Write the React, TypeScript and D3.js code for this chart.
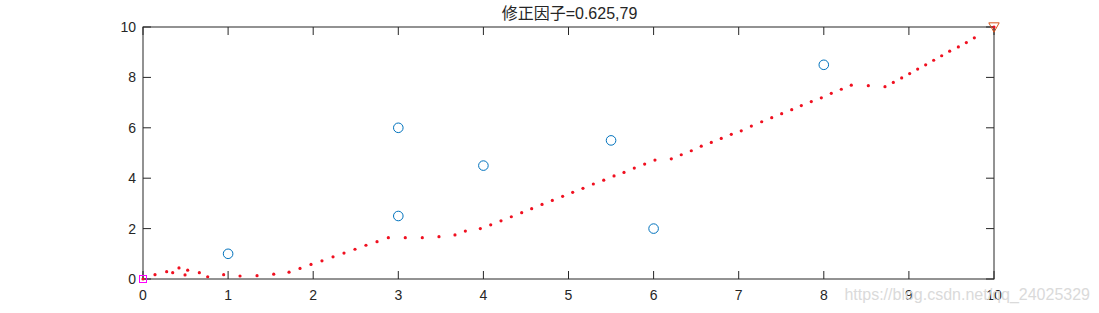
import React from "react";
import * as d3 from "d3";

const titleText = "修正因子=0.625,79";
const xTicks = [0, 1, 2, 3, 4, 5, 6, 7, 8, 9, 10];
const yTicks = [0, 2, 4, 6, 8, 10];

const sampleX = [1, 3, 3, 4, 5.5, 6, 8];
const sampleY = [1, 2.5, 6, 4.5, 5.5, 2, 8.5];

const startPt = [0, 0];
const endPt = [10, 10];

const pathX = [
  0, 0.141, 0.278, 0.349, 0.423, 0.494, 0.525, 0.662, 0.76, 0.948, 1.14, 1.34, 1.536, 1.716, 1.845, 1.974,
  2.103, 2.233, 2.362, 2.491, 2.62, 2.75, 2.883, 3.082, 3.282, 3.478, 3.666, 3.788, 3.964, 4.086, 4.207,
  4.328, 4.45, 4.567, 4.689, 4.81, 4.931, 5.049, 5.17, 5.292, 5.414, 5.535, 5.652, 5.773, 5.895, 6.016,
  6.208, 6.325, 6.443, 6.56, 6.678, 6.795, 6.913, 7.03, 7.149, 7.27, 7.388, 7.505, 7.623, 7.736, 7.853,
  7.971, 8.088, 8.206, 8.323, 8.523, 8.719, 8.817, 8.915, 9.009, 9.103, 9.197, 9.291, 9.385, 9.479, 9.581,
  9.675, 9.769, 10,
];
const pathY = [
  0, 0.17, 0.29, 0.25, 0.44, 0.16, 0.35, 0.25, 0.09, 0.17, 0.12, 0.13, 0.19, 0.27, 0.42, 0.58,
  0.72, 0.88, 1.03, 1.18, 1.34, 1.48, 1.64, 1.64, 1.64, 1.68, 1.75, 1.9, 2.0, 2.15, 2.31,
  2.47, 2.63, 2.79, 2.96, 3.12, 3.28, 3.44, 3.6, 3.77, 3.92, 4.09, 4.23, 4.4, 4.56, 4.72,
  4.77, 4.93, 5.09, 5.27, 5.42, 5.58, 5.74, 5.88, 6.07, 6.24, 6.4, 6.56, 6.72, 6.88, 7.04,
  7.19, 7.37, 7.53, 7.69, 7.67, 7.63, 7.8, 7.98, 8.15, 8.33, 8.5, 8.68, 8.86, 9.04, 9.21,
  9.38, 9.57, 10,
];

const W = 1099;
const H = 313;
const left = 143;
const right = 994;
const top = 27;
const bottom = 279;
const tickLen = 8;
const axisColor = "#262626";
const font = "Arial, 'Liberation Sans', Helvetica, sans-serif";

export default function App() {
  const x = d3.scaleLinear().domain([0, 10]).range([left, right]);
  const y = d3.scaleLinear().domain([0, 10]).range([bottom, top]);

  const tri = (cx: number, cy: number, s: number) =>
    `M${cx - s},${cy - s * 0.8} L${cx + s},${cy - s * 0.8} L${cx},${cy + s * 1.0} Z`;

  return (
    <svg
      width={W}
      height={H}
      style={{ position: "fixed", left: 0, top: 0, background: "#fff" }}
      fontFamily={font}
    >
      <rect x={0} y={0} width={W} height={H} fill="#fff" />
      <text
        x={(left + right) / 2 + 1}
        y={19}
        textAnchor="middle"
        fontSize={16}
        fill="#262626"
        fontFamily="Arial, 'Noto Sans CJK SC', sans-serif"
      >
        {titleText}
      </text>

      <rect x={left} y={top} width={right - left} height={bottom - top} fill="none" stroke={axisColor} strokeWidth={1} />

      {xTicks.map((t) => (
        <g key={"xt" + t}>
          <line x1={x(t)} x2={x(t)} y1={bottom} y2={bottom - tickLen} stroke={axisColor} />
          <line x1={x(t)} x2={x(t)} y1={top} y2={top + tickLen} stroke={axisColor} />
          <text x={x(t)} y={bottom + 21} textAnchor="middle" fontSize={14} fill="#262626">
            {t}
          </text>
        </g>
      ))}
      {yTicks.map((t) => (
        <g key={"yt" + t}>
          <line x1={left} x2={left + tickLen} y1={y(t)} y2={y(t)} stroke={axisColor} />
          <line x1={right} x2={right - tickLen} y1={y(t)} y2={y(t)} stroke={axisColor} />
          <text x={left - 7} y={y(t) + 5} textAnchor="end" fontSize={14} fill="#262626">
            {t}
          </text>
        </g>
      ))}

      {sampleX.map((v, i) => (
        <circle key={"c" + i} cx={x(v)} cy={y(sampleY[i])} r={4.8} fill="none" stroke="#0072BD" strokeWidth={1} />
      ))}

      <rect x={x(startPt[0]) - 3.5} y={y(startPt[1]) - 3.5} width={7} height={7} fill="none" stroke="#FF00FF" strokeWidth={1} />
      <path d={tri(x(endPt[0]), y(endPt[1]), 5.2)} fill="none" stroke="#D95319" strokeWidth={1} />

      {pathX.map((v, i) => (
        <circle key={"d" + i} cx={x(v)} cy={y(pathY[i])} r={1.6} fill="#f01020" />
      ))}

      <text x={1090} y={300} textAnchor="end" fontSize={16} fill="#dadada">
        https://blog.csdn.net/qq_24025329
      </text>
    </svg>
  );
}
